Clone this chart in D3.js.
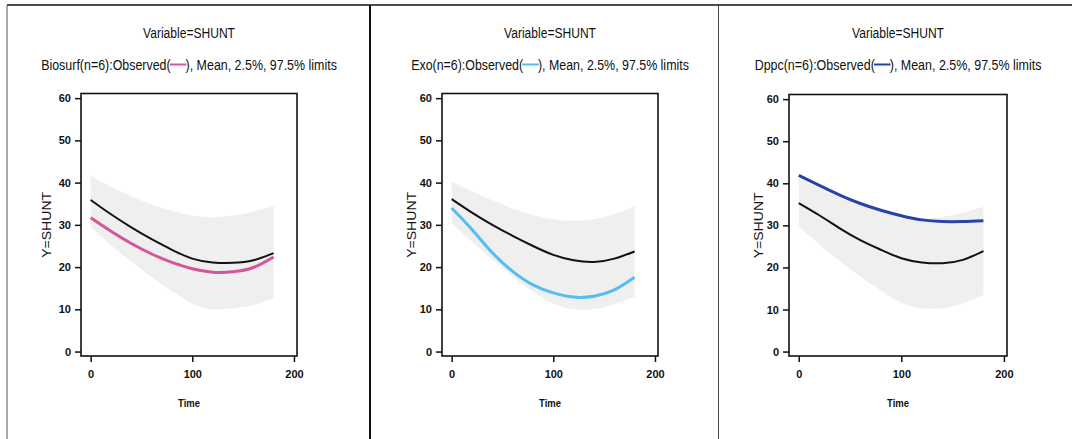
<!DOCTYPE html>
<html>
<head>
<meta charset="utf-8">
<script src="https://cdn.jsdelivr.net/npm/d3@7"></script>
<style>
  html, body { margin: 0; padding: 0; background: #ffffff; }
  svg { display: block; }
  .narrow { font-family: "Liberation Sans Narrow", "Arial Narrow", "Liberation Sans", Arial, sans-serif; }
</style>
</head>
<body>
<svg id="chart" width="1072" height="439"></svg>
<script>
// ---------------- DATA ----------------
const times = [0, 20, 40, 60, 80, 100, 120, 140, 160, 180];
const xTicks = [0, 100, 200];
const yTicks = [0, 10, 20, 30, 40, 50, 60];
const groups = ["Biosurf", "Exo", "Dppc"];
const groupN = [6, 6, 6];
const variableName = "SHUNT";

// Observed group curves
const biosurfObserved = [31.7, 28.5, 25.6, 23.1, 21.1, 19.6, 18.8, 18.9, 19.9, 22.4];
const exoObserved     = [34.0, 28.9, 23.4, 19.0, 15.8, 13.9, 12.9, 13.1, 14.6, 17.6];
const dppcObserved    = [41.9, 39.5, 37.2, 35.2, 33.6, 32.3, 31.3, 30.9, 30.9, 31.1];

// Mean curves
const biosurfMean = [35.9, 32.5, 29.4, 26.6, 24.1, 22.0, 21.1, 21.0, 21.6, 23.3];
const exoMean     = [36.1, 32.9, 30.0, 27.4, 25.0, 22.9, 21.6, 21.2, 22.0, 23.7];
const dppcMean    = [35.3, 32.4, 29.3, 26.5, 24.2, 22.2, 21.2, 21.0, 21.8, 23.9];

// 97.5% limits
const biosurfUpper = [41.6, 39.0, 36.8, 34.8, 33.3, 32.2, 31.8, 32.2, 33.1, 34.4];
const exoUpper     = [40.2, 37.9, 35.8, 33.9, 32.3, 31.3, 30.9, 31.3, 32.5, 34.4];
const dppcUpper    = [41.2, 38.9, 36.7, 34.7, 33.1, 32.0, 31.6, 32.0, 33.0, 34.4];

// 2.5% limits
const biosurfLower = [29.5, 25.2, 21.3, 17.6, 14.3, 11.4, 10.0, 10.2, 11.0, 12.6];
const exoLower     = [30.5, 26.0, 21.8, 17.8, 14.2, 11.4, 10.0, 10.0, 11.2, 13.0];
const dppcLower    = [29.8, 25.5, 21.5, 17.8, 14.5, 11.6, 10.3, 10.3, 11.5, 13.5];

const observedSeries = [biosurfObserved, exoObserved, dppcObserved];
const meanSeries = [biosurfMean, exoMean, dppcMean];
const upperSeries = [biosurfUpper, exoUpper, dppcUpper];
const lowerSeries = [biosurfLower, exoLower, dppcLower];
const observedColors = ["#d4559b", "#55bdf0", "#2a41a6"];

// ---------------- LAYOUT ----------------
const svg = d3.select("#chart");
const panels = [
  { left: 81,  top: 93.5, width: 216, height: 262.5, yLabelX: 47,  subW: 296 },
  { left: 442, top: 93.5, width: 216, height: 262.5, yLabelX: 412, subW: 278 },
  { left: 789, top: 94.5, width: 218, height: 261.5, yLabelX: 759, subW: 287 }
];

// Text squeezed horizontally to a target width (condensed look)
function fitText(parent, str, cx, y, width, size, weight) {
  const wrap = parent.append("g");
  const t = wrap.append("text").attr("class", "narrow")
    .attr("x", 0).attr("y", 0).attr("text-anchor", "middle")
    .attr("font-size", size).attr("font-weight", weight || "normal").attr("fill", "#111")
    .text(str);
  const natural = t.node().getComputedTextLength();
  const k = width / natural;
  wrap.attr("transform", `translate(${cx},${y}) scale(${k},1)`);
  return { wrap, t, k, natural };
}

// Outer borders
svg.append("line").attr("x1", 7).attr("x2", 1072).attr("y1", 5).attr("y2", 5)
  .attr("stroke", "#111").attr("stroke-width", 1.6);
svg.append("line").attr("x1", 7).attr("x2", 7).attr("y1", 5).attr("y2", 439)
  .attr("stroke", "#555").attr("stroke-width", 1);
svg.append("line").attr("x1", 370).attr("x2", 370).attr("y1", 5).attr("y2", 439)
  .attr("stroke", "#111").attr("stroke-width", 2);
svg.append("line").attr("x1", 718.5).attr("x2", 718.5).attr("y1", 5).attr("y2", 439)
  .attr("stroke", "#444").attr("stroke-width", 1);

panels.forEach((p, i) => {
  const g = svg.append("g");
  const x = d3.scaleLinear().domain([-9.5, 203]).range([p.left, p.left + p.width]);
  const y = d3.scaleLinear().domain([-1.05, 61.1]).range([p.top + p.height, p.top]);
  const cx = p.left + p.width / 2;

  // Titles
  fitText(g, "Variable=" + variableName, cx, 37.5, 92, 15);

  // Subtitle with a gap where the coloured legend swatch is drawn
  const subText = groups[i] + "(n=" + groupN[i] + "):Observed(\u2003\u2009), Mean, 2.5%, 97.5% limits";
  const s = fitText(g, subText, cx, 69.5, p.subW, 15);
  const gapIdx = subText.indexOf("\u2003");
  const node = s.t.node();
  const sx = node.getStartPositionOfChar(gapIdx).x;
  const ex = node.getEndPositionOfChar(gapIdx + 1).x;
  s.wrap.append("line").attr("x1", sx - 1).attr("x2", ex + 1)
    .attr("y1", -5).attr("y2", -5)
    .attr("stroke", observedColors[i]).attr("stroke-width", 2);

  // Band
  const bandData = times.map((t, k) => ({ t, lo: lowerSeries[i][k], hi: upperSeries[i][k] }));
  g.append("path").datum(bandData)
    .attr("fill", "#efefef")
    .attr("d", d3.area().x(d => x(d.t)).y0(d => y(d.lo)).y1(d => y(d.hi)).curve(d3.curveNatural));

  const line = d3.line().x((d, k) => x(times[k])).y(d => y(d)).curve(d3.curveNatural);

  g.append("path").datum(meanSeries[i])
    .attr("fill", "none").attr("stroke", "#111").attr("stroke-width", 2)
    .attr("d", line);
  g.append("path").datum(observedSeries[i])
    .attr("fill", "none").attr("stroke", observedColors[i]).attr("stroke-width", 3)
    .attr("d", line);

  // Frame
  g.append("rect").attr("x", p.left).attr("y", p.top)
    .attr("width", p.width).attr("height", p.height)
    .attr("fill", "none").attr("stroke", "#111").attr("stroke-width", 1.6);

  // Axes
  const yAxis = d3.axisLeft(y).tickValues(yTicks).tickSize(6).tickPadding(4).tickSizeOuter(0);
  const ya = g.append("g").attr("transform", `translate(${p.left},0)`).call(yAxis);
  ya.select(".domain").remove();
  const xAxis = d3.axisBottom(x).tickValues(xTicks).tickSize(6).tickPadding(8).tickSizeOuter(0);
  const xa = g.append("g").attr("transform", `translate(0,${p.top + p.height})`).call(xAxis);
  xa.select(".domain").remove();
  [ya, xa].forEach(a => {
    a.selectAll("line").attr("stroke", "#111").attr("stroke-width", 1.5);
    a.selectAll("text").attr("class", "narrow").attr("font-size", 11)
      .attr("font-weight", "bold").attr("fill", "#111");
  });

  // Axis labels
  fitText(g, "Time", cx, 407, 22, 11, "bold");
  const yl = fitText(g, "Y=" + variableName, 0, 0, 66, 13);
  yl.wrap.attr("transform", `translate(${p.yLabelX + 4},${y(30)}) rotate(-90) scale(${yl.k},1)`);
});
</script>
</body>
</html>
